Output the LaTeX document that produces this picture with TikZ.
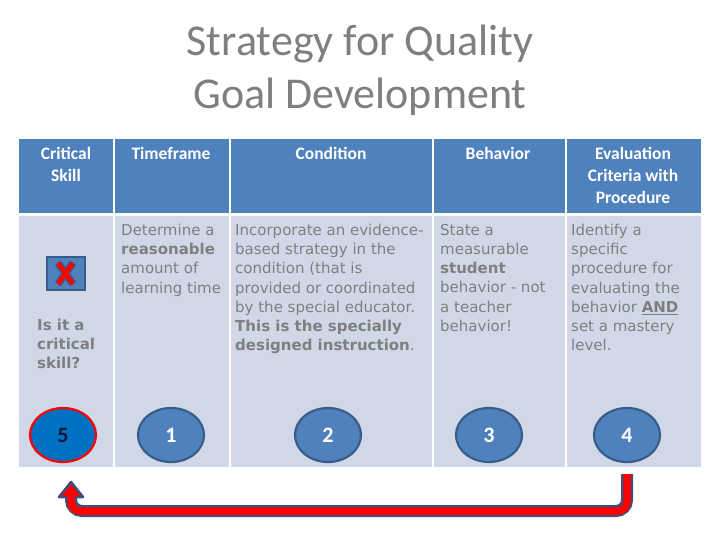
\documentclass[tikz,border=0pt]{standalone}
\usepackage{fontspec}
\setmainfont{DejaVu Sans}
\newfontfamily\calfont{Carlito}
\usetikzlibrary{shapes.geometric}
\definecolor{hdr}{HTML}{4F81BD}
\definecolor{cellbg}{HTML}{D0D8E8}
\definecolor{txtgray}{HTML}{7F7F7F}
\definecolor{circedge}{HTML}{385D8A}
\definecolor{arrowedge}{HTML}{3F4F75}
\definecolor{circfive}{HTML}{0070C0}
\definecolor{navytxt}{HTML}{10163A}
\begin{document}
\begin{tikzpicture}[x=1pt,y=-1pt,
  hdrcell/.style={fill=hdr},
  bodycell/.style={fill=cellbg},
  hdrtext/.style={anchor=north, inner sep=0pt, align=center, text=white,
    font=\calfont\bfseries\fontsize{17.5}{22}\selectfont},
  bodytext/.style={anchor=north west, inner sep=0pt, align=left, text=txtgray,
    font=\fontsize{15}{19.2}\selectfont},
  numcirc/.style={ellipse, minimum width=66pt, minimum height=54pt, inner sep=0pt,
    fill=hdr, draw=circedge, line width=2.2pt, text=white,
    font=\calfont\bfseries\fontsize{22}{22}\selectfont},
  titletext/.style={inner sep=0pt, text=txtgray, font=\calfont\fontsize{44}{53}\selectfont}
]
\useasboundingbox (0,0) rectangle (720,540);
\fill[white] (0,0) rectangle (720,540);

% title
\node[titletext, anchor=base] (t1) at (360,56) {Strategy for Quality};
\node[titletext, anchor=base] (t2) at (360,109) {Goal Development};

% header cells
\fill[hdrcell] (19,139) rectangle (113,213);
\fill[hdrcell] (115,139) rectangle (229,213);
\fill[hdrcell] (231,139) rectangle (432,213);
\fill[hdrcell] (434,139) rectangle (565,213);
\fill[hdrcell] (567,139) rectangle (701,213);
% body cells
\fill[bodycell] (19,216) rectangle (113,467);
\fill[bodycell] (115,216) rectangle (229,467);
\fill[bodycell] (231,216) rectangle (432,467);
\fill[bodycell] (434,216) rectangle (565,467);
\fill[bodycell] (567,216) rectangle (701,467);

% header texts
\node[hdrtext] (h1) at (66,147) {Critical\\Skill};
\node[hdrtext] (h2) at (171,147) {Timeframe};
\node[hdrtext] (h3) at (331,147) {Condition};
\node[hdrtext] (h4) at (498,147) {Behavior};
\node[hdrtext] (h5) at (633,147) {Evaluation\\Criteria with\\Procedure};

% body texts
\node[bodytext] (b2) at (121,224) {Determine a\\\textbf{reasonable}\\amount of\\learning time};
\node[bodytext] (b3) at (235,224) {Incorporate an evidence-\\based strategy in the\\condition (that is\\provided or coordinated\\by the special educator.\\\textbf{This is the specially}\\\textbf{designed instruction}.};
\node[bodytext] (b4) at (440,224) {State a\\measurable\\\textbf{student}\\behavior - not\\a teacher\\behavior!};
\node[bodytext] (b5) at (571,224) {Identify a\\specific\\procedure for\\evaluating the\\behavior \underline{\textbf{AND}}\\set a mastery\\level.};
\node[bodytext, font=\bfseries\fontsize{15}{19.2}\selectfont] (b1) at (37,319) {Is it a\\critical\\skill?};

% broken-image icon with red X
\filldraw[fill=hdr, draw=circedge, line width=2.2pt] (47,257) rectangle (85,290);
\draw[circedge, line width=7.5pt] (58,263) -- (73,284) (73,263) -- (58,284);
\draw[red, line width=4.5pt] (58,263) -- (73,284) (73,263) -- (58,284);

% numbered circles
\node[numcirc, fill=circfive, draw=red, text=navytxt] (n5) at (63,435) {5};
\node[numcirc] (n1) at (171,435) {1};
\node[numcirc] (n2) at (328,435) {2};
\node[numcirc] (n3) at (489,435) {3};
\node[numcirc] (n4) at (627,435) {4};

% return arrow from 4 back to 5
\coordinate (as) at (627,474);
\coordinate (ae) at (71,495);
\coordinate (tip) at (71,482);
\draw[arrowedge, line width=12pt, rounded corners=11pt] (as) |- (ae |- 0,511) -- (ae);
\filldraw[fill=red, draw=arrowedge, line width=2.5pt, line join=round] (tip) -- (59,497) -- (83,497) -- cycle;
\draw[red, line width=7.5pt, rounded corners=9pt] (as) |- (ae |- 0,511) -- (ae);
\end{tikzpicture}
\end{document}
